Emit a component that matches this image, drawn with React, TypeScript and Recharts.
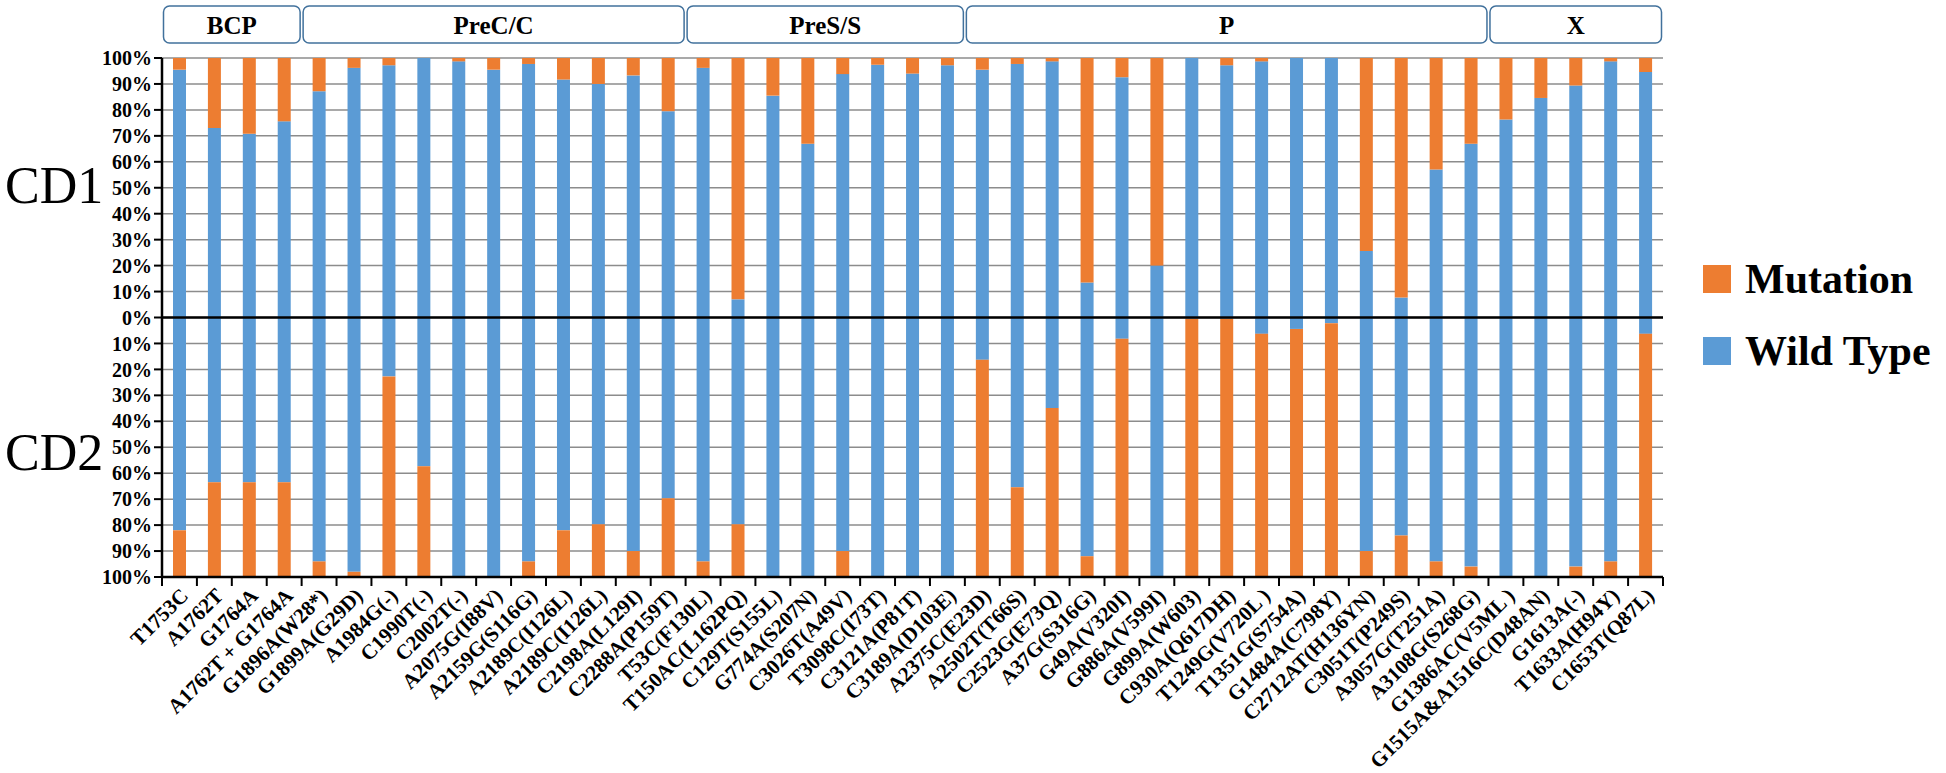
import React from "react";
import { BarChart, Bar, XAxis, YAxis, CartesianGrid, ReferenceLine } from "recharts";

// mutation sites, in plot order
const categories = [
  "T1753C", "A1762T", "G1764A", "A1762T + G1764A",
  "G1896A(W28*)", "G1899A(G29D)", "A1984G(-)", "C1990T(-)", "C2002T(-)", "A2075G(I88V)",
  "A2159G(S116G)", "A2189C(I126L)", "A2189C(I126L)", "C2198A(L129I)", "C2288A(P159T)",
  "T53C(F130L)", "T150AC(L162PQ)", "C129T(S155L)", "G774A(S207N)", "C3026T(A49V)",
  "T3098C(I73T)", "C3121A(P81T)", "C3189A(D103E)",
  "A2375C(E23D)", "A2502T(T66S)", "C2523G(E73Q)", "A37G(S316G)", "G49A(V320I)",
  "G886A(V599I)", "G899A(W603)", "C930A(Q617DH)", "T1249G(V720L )", "T1351G(S754A)",
  "G1484A(C798Y)", "C2712AT(H136YN)", "C3051T(P249S)", "A3057G(T251A)", "A3108G(S268G)",
  "G1386AC(V5ML )", "G1515A&A1516C(D48AN)", "G1613A(-)", "T1633A(H94Y)", "C1653T(Q87L)",
];

const groupNames = ["BCP", "PreC/C", "PreS/S", "P", "X"];
const groupSizes = [4, 11, 8, 15, 5];

// % wild type
const cd1Wild = [
  95.5, 73, 70.8, 75.6, 87.2, 96.2, 97.2, 100, 98.7, 95.5,
  97.7, 91.7, 90, 93.3, 79.5, 96.2, 7, 85.5, 67, 93.8,
  97.4, 94, 97.2, 95.5, 97.7, 98.7, 13.5, 92.6, 20, 100,
  97.2, 98.7, 100, 100, 25.6, 7.7, 57, 67, 76.3, 84.6,
  89.4, 98.7, 94.6,
];
const cd2Wild = [
  82, 63.5, 63.5, 63.5, 94, 98, 22.7, 57.3, 100, 100,
  94, 82, 79.7, 90, 69.7, 94, 79.7, 100, 100, 90,
  100, 100, 100, 16.3, 65.4, 34.9, 92, 8.2, 100, 0.5,
  0.5, 6.3, 4.4, 2.2, 90, 84, 94, 96, 100, 100,
  96, 94, 6.3,
];

const yTicks = [-100, -90, -80, -70, -60, -50, -40, -30, -20, -10, 0, 10, 20, 30, 40, 50, 60, 70, 80, 90, 100];

const legendItems = [
  { name: "Mutation", color: "#ED7D31" },
  { name: "Wild Type", color: "#5B9BD5" },
];

const W = 1946;
const H = 773;
const LEFT = 162;
const RIGHT = 1663;
const TOP = 58;
const BOTTOM = 577;
const BAND = (RIGHT - LEFT) / categories.length;
const FONT = '"Liberation Serif", "Times New Roman", serif';

const data = categories.map((name, i) => ({
  id: i,
  name,
  cd1Wild: cd1Wild[i],
  cd1Mut: +(100 - cd1Wild[i]).toFixed(1),
  cd2Wild: -cd2Wild[i],
  cd2Mut: -+(100 - cd2Wild[i]).toFixed(1),
}));

const groupStarts: number[] = [];
groupSizes.reduce((acc, n) => {
  groupStarts.push(acc);
  return acc + n;
}, 0);

const BottomTick = (props: any) => {
  const { x, y, payload } = props;
  const i = payload.value;
  const left = x - BAND / 2;
  const tx = x + 10;
  const ty = y + 20;
  return (
    <g>
      <line x1={left} x2={left} y1={y} y2={y + 9} stroke="#000" strokeWidth={2} />
      {i === categories.length - 1 && (
        <line x1={x + BAND / 2} x2={x + BAND / 2} y1={y} y2={y + 9} stroke="#000" strokeWidth={2} />
      )}
      <text
        x={tx}
        y={ty}
        textAnchor="end"
        transform={`rotate(-45, ${tx}, ${ty})`}
        fontFamily={FONT}
        fontWeight="bold"
        fontSize={21}
        fill="#000"
      >
        {categories[i]}
      </text>
    </g>
  );
};

const HeaderTick = (props: any) => {
  const { x, y, payload } = props;
  const g = groupStarts.indexOf(payload.value);
  if (g < 0) return <g />;
  const x0 = x - BAND / 2 + 1.5;
  const w = groupSizes[g] * BAND - 3;
  return (
    <g>
      <rect x={x0} y={y - 52} width={w} height={37} rx={6} ry={6} fill="#fff" stroke="#41719C" strokeWidth={1.5} />
      <text
        x={x0 + w / 2}
        y={y - 33}
        textAnchor="middle"
        dominantBaseline="central"
        fontFamily={FONT}
        fontWeight="bold"
        fontSize={25}
        fill="#000"
      >
        {groupNames[g]}
      </text>
    </g>
  );
};

export default function App() {
  return (
    <div style={{ position: "absolute", left: 0, top: 0, width: W, height: H, background: "#fff" }}>
      <BarChart
        width={W}
        height={H}
        data={data}
        stackOffset="sign"
        barSize={13}
        margin={{ top: 0, right: W - RIGHT, bottom: 0, left: 0 }}
      >
        <CartesianGrid vertical={false} stroke="#8c8c8c" strokeWidth={1.5} />
        <XAxis
          dataKey="id"
          type="category"
          interval={0}
          height={H - BOTTOM}
          tickSize={0}
          tickMargin={0}
          tickLine={false}
          axisLine={{ stroke: "#000", strokeWidth: 2.5 }}
          tick={<BottomTick />}
        />
        <XAxis
          xAxisId="top"
          dataKey="id"
          type="category"
          orientation="top"
          interval={0}
          height={TOP}
          tickSize={0}
          tickMargin={0}
          tickLine={false}
          axisLine={false}
          tick={<HeaderTick />}
        />
        <YAxis
          type="number"
          domain={[-100, 100]}
          ticks={yTicks}
          interval={0}
          width={LEFT}
          tickSize={8}
          tickMargin={2}
          axisLine={{ stroke: "#000", strokeWidth: 2.5 }}
          tickLine={{ stroke: "#000", strokeWidth: 2 }}
          tick={{ fontFamily: FONT, fontWeight: "bold", fontSize: 20, fill: "#000" }}
          tickFormatter={(v: number) => `${Math.abs(v)}%`}
        />
        <ReferenceLine y={0} stroke="#000" strokeWidth={2.5} />
        <Bar dataKey="cd1Wild" stackId="s" fill="#5B9BD5" isAnimationActive={false} />
        <Bar dataKey="cd1Mut" stackId="s" fill="#ED7D31" isAnimationActive={false} />
        <Bar dataKey="cd2Wild" stackId="s" fill="#5B9BD5" isAnimationActive={false} />
        <Bar dataKey="cd2Mut" stackId="s" fill="#ED7D31" isAnimationActive={false} />
      </BarChart>

      <div style={{ position: "absolute", left: 5, top: 156, fontFamily: FONT, fontSize: 52, lineHeight: "60px" }}>CD1</div>
      <div style={{ position: "absolute", left: 5, top: 423, fontFamily: FONT, fontSize: 52, lineHeight: "60px" }}>CD2</div>

      <div style={{ position: "absolute", left: 1703, top: 243, fontFamily: FONT }}>
        {legendItems.map((it) => (
          <div key={it.name} style={{ display: "flex", alignItems: "center", height: 72 }}>
            <div style={{ width: 28, height: 28, background: it.color, marginRight: 14 }} />
            <span style={{ fontSize: 42, fontWeight: "bold", color: "#000" }}>{it.name}</span>
          </div>
        ))}
      </div>
    </div>
  );
}
